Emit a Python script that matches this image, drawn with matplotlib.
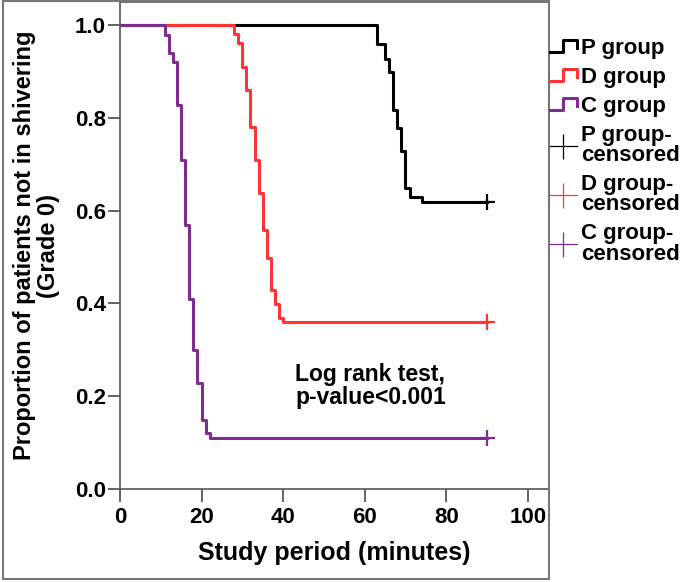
import matplotlib
matplotlib.use("Agg")
import matplotlib.pyplot as plt
from matplotlib.lines import Line2D
from matplotlib.legend_handler import HandlerBase
from matplotlib.patches import Rectangle

# Kaplan-Meier steps (minutes, proportion)
p_times = [0, 63, 65, 66, 67, 68, 69, 70, 71, 74, 90]
p_surv = [1.0, 0.959, 0.928, 0.899, 0.818, 0.779, 0.728, 0.649, 0.630, 0.619, 0.619]

d_times = [0, 28, 29, 30, 31, 32, 33, 34, 35, 36, 37, 38, 39, 40, 90]
d_surv = [1.0, 0.981, 0.961, 0.909, 0.860, 0.780, 0.709, 0.639, 0.558, 0.499,
          0.429, 0.399, 0.368, 0.360, 0.360]

c_times = [0, 11, 12, 13, 14, 15, 16, 17, 18, 19, 20, 21, 22, 90]
c_surv = [1.0, 0.978, 0.939, 0.920, 0.828, 0.709, 0.569, 0.409, 0.299, 0.229,
          0.149, 0.120, 0.111, 0.111]

censor_time = 90
group_names = ["P group", "D group", "C group"]
censor_names = ["P group-\ncensored", "D group-\ncensored", "C group-\ncensored"]
colors = ["#000000", "#ff3535", "#7f2b8f"]

plt.rcParams['font.family'] = ['Liberation Sans', 'DejaVu Sans']
plt.rcParams['font.weight'] = 'bold'


class StepHandler(HandlerBase):
    def create_artists(self, legend, orig_handle, xd, yd, width, height, fontsize, trans):
        x0, y0 = -xd, -yd
        xs = [x0, x0 + 0.5 * width, x0 + 0.5 * width, x0 + width, x0 + width]
        ys = [y0 + 0.1 * height, y0 + 0.1 * height, y0 + 0.9 * height,
              y0 + 0.9 * height, y0 + 0.4 * height]
        ln = Line2D(xs, ys, color=orig_handle.get_color(), lw=2.2, transform=trans)
        return [ln]


fig = plt.figure(figsize=(6.85, 5.82), dpi=100)
ax = fig.add_axes([120 / 685, 1 - 489 / 582, (549 - 120) / 685, (489 - 2) / 582])

curves = [(p_times, p_surv), (d_times, d_surv), (c_times, c_surv)]
step_handles = []
censor_handles = []
for (t, s), col, name, cname in zip(curves, colors, group_names, censor_names):
    ln, = ax.plot(t, s, drawstyle='steps-post', color=col, lw=2.2, label=name)
    ax.plot([censor_time], [s[-1]], marker='+', ms=11, mew=1.6, color=col, ls='none')
    step_handles.append(ln)
    censor_handles.append(Line2D([], [], color=col, lw=0.9, marker='|', ms=18, mew=0.9))

ax.set_xlim(0, 105.2)
ax.set_ylim(0, 1.05)
ax.set_xticks([0, 20, 40, 60, 80, 100])
ax.set_yticks([0.0, 0.2, 0.4, 0.6, 0.8, 1.0])
ax.set_yticklabels(["0.0", "0.2", "0.4", "0.6", "0.8", "1.0"])
ax.tick_params(axis='both', labelsize=16, length=9, width=1.3, color='#555555')
ax.tick_params(axis='y', pad=1)
ax.tick_params(axis='x', pad=4)
for sp in ax.spines.values():
    sp.set_color('#555555')
    sp.set_linewidth(1.2)

ax.set_xlabel("Study period (minutes)", fontsize=18, fontweight='bold', labelpad=9)
ax.set_ylabel("Proportion of patients not in shivering\n(Grade 0)", fontsize=17,
              fontweight='bold', labelpad=11, linespacing=1.05)

ax.text(43, 0.272, "Log rank test,\np-value<0.001", fontsize=16.5, fontweight='bold',
        va='top', ha='left', linespacing=1.0)

handles = step_handles + censor_handles
labels = group_names + censor_names
leg = fig.legend(handles, labels, loc='upper left', bbox_to_anchor=(550 / 685, 1 - 38 / 582),
                 frameon=False, fontsize=16, handlelength=1.2, handletextpad=0.2,
                 labelspacing=0.36, borderaxespad=0, borderpad=0,
                 handler_map={h: StepHandler() for h in step_handles})
for txt in leg.get_texts():
    txt.set_fontweight('bold')
    txt.set_linespacing(0.95)

fig.patches.append(Rectangle((3 / 685, 3 / 582), (549 - 3) / 685, (581 - 3) / 582,
                             transform=fig.transFigure, fill=False,
                             edgecolor='#777777', lw=1.5))

fig.savefig("out.png", dpi=100)
